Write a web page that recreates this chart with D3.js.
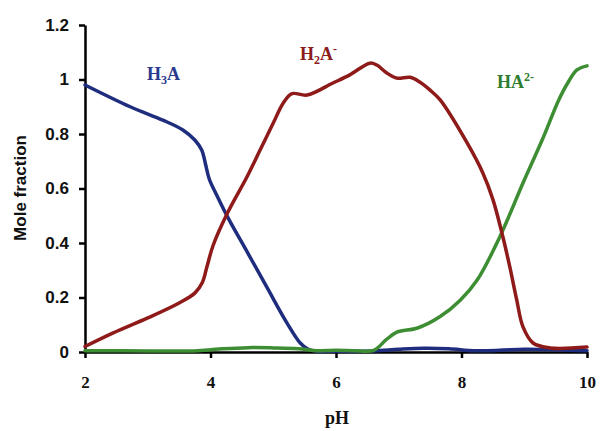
<!DOCTYPE html>
<html>
<head>
<meta charset="utf-8">
<script src="https://cdn.jsdelivr.net/npm/d3@7"></script>
<style>
  html, body { margin: 0; padding: 0; background: #fff; }
  svg { display: block; }
</style>
</head>
<body>
<svg id="chart" width="601" height="431"></svg>
<script>
// ---- data ----
const xTicks = [2, 4, 6, 8, 10];
const yTicks = [0, 0.2, 0.4, 0.6, 0.8, 1, 1.2];

const h3aPH  = [2.0, 2.72, 3.24, 3.56, 3.75, 3.86, 3.92, 3.98, 4.10, 4.28, 4.58, 4.90, 5.22, 5.43, 5.55, 5.7, 6.0, 6.6, 7.0, 7.4, 7.8, 8.2, 8.6, 9.0, 9.5, 10.0];
const h3aVal = [0.98, 0.90, 0.851, 0.815, 0.778, 0.741, 0.69, 0.635, 0.575, 0.492, 0.369, 0.237, 0.106, 0.033, 0.011, 0.003, 0.003, 0.004, 0.010, 0.014, 0.012, 0.005, 0.006, 0.010, 0.008, 0.005];

const h2aPH  = [2.0, 2.45, 3.0, 3.5, 3.75, 3.87, 3.94, 4.04, 4.27, 4.58, 4.79, 5.0, 5.16, 5.3, 5.54, 5.95, 6.22, 6.54, 6.65, 6.81, 6.97, 7.18, 7.34, 7.5, 7.66, 8.09, 8.34, 8.5, 8.66, 8.77, 8.88, 8.98, 9.14, 9.41, 10.0];
const h2aVal = [0.02, 0.07, 0.125, 0.18, 0.216, 0.255, 0.31, 0.39, 0.51, 0.642, 0.741, 0.84, 0.914, 0.948, 0.943, 0.987, 1.017, 1.06, 1.053, 1.024, 1.005, 1.008, 0.99, 0.961, 0.925, 0.767, 0.657, 0.56, 0.422, 0.312, 0.191, 0.092, 0.033, 0.015, 0.018];

const ha2PH  = [2.0, 3.0, 3.8, 4.2, 4.6, 5.0, 5.4, 5.7, 6.0, 6.3, 6.6, 6.8, 6.97, 7.3, 7.66, 7.98, 8.25, 8.61, 8.98, 9.28, 9.55, 9.7, 9.84, 10.0];
const ha2Val = [0.005, 0.004, 0.005, 0.012, 0.016, 0.015, 0.012, 0.005, 0.006, 0.005, 0.006, 0.045, 0.073, 0.088, 0.13, 0.19, 0.264, 0.422, 0.62, 0.775, 0.925, 0.99, 1.035, 1.05];

const seriesNames = ["H3A", "H2A-", "HA2-"];

// ---- drawing ----
const svg = d3.select("#chart");
const x = d3.scaleLinear().domain([2, 10]).range([85, 587]);
const y = d3.scaleLinear().domain([0, 1.2]).range([352, 25]);

const series = [
  { name: seriesNames[0], px: h3aPH, v: h3aVal, color: "#1f2d7e" },
  { name: seriesNames[2], px: ha2PH, v: ha2Val, color: "#3d8d33" },
  { name: seriesNames[1], px: h2aPH, v: h2aVal, color: "#8e1a1a" }
];

// axes
const yAxis = d3.axisLeft(y).tickValues(yTicks).tickFormat(d3.format("~g"))
  .tickSize(6).tickSizeOuter(0).tickPadding(10);
const xAxis = d3.axisBottom(x).tickValues(xTicks).tickFormat(d3.format("~g"))
  .tickSize(6).tickSizeOuter(0).tickPadding(18);

const gx = svg.append("g").attr("transform", "translate(0,352)").call(xAxis);
gx.select(".domain").attr("stroke", "#000").attr("stroke-width", 2.5);
gx.selectAll(".tick line").attr("stroke", "#000").attr("stroke-width", 2.5);
gx.selectAll(".tick text")
  .attr("font-family", "'Liberation Serif', 'Times New Roman', serif")
  .attr("font-weight", "bold").attr("font-size", 17).attr("fill", "#111");

const gy = svg.append("g").attr("transform", "translate(85,0)").call(yAxis);
gy.select(".domain").attr("stroke", "#000").attr("stroke-width", 2.5);
gy.selectAll(".tick line").attr("stroke", "#000").attr("stroke-width", 2.5);
gy.selectAll(".tick text")
  .attr("font-family", "'Liberation Sans', Arial, sans-serif")
  .attr("font-weight", "bold").attr("font-size", 17).attr("fill", "#111");

// curves
const line = d3.line()
  .x(d => x(d[0]))
  .y(d => y(d[1]))
  .curve(d3.curveCatmullRom.alpha(0.5));

series.forEach(s => {
  const pts = s.px.map((p, i) => [p, s.v[i]]);
  svg.append("path")
    .datum(pts)
    .attr("fill", "none")
    .attr("stroke", s.color)
    .attr("stroke-width", 3.5)
    .attr("stroke-linejoin", "round")
    .attr("stroke-linecap", "round")
    .attr("d", line);
});

// series labels
const serif = "'Liberation Serif', 'Times New Roman', serif";
// H3A
{
  const t = svg.append("text").attr("x", 147).attr("y", 80)
    .attr("font-family", serif).attr("font-weight", "bold")
    .attr("font-size", 18).attr("fill", "#2a3a8c");
  t.append("tspan").text("H");
  t.append("tspan").attr("font-size", 12).attr("dy", 4).text("3");
  t.append("tspan").attr("dy", -4).text("A");
}
// H2A-
{
  const t = svg.append("text").attr("x", 300).attr("y", 60)
    .attr("font-family", serif).attr("font-weight", "bold")
    .attr("font-size", 18).attr("fill", "#8b1c1c");
  t.append("tspan").text("H");
  t.append("tspan").attr("font-size", 12).attr("dy", 4).text("2");
  t.append("tspan").attr("dy", -4).text("A");
  t.append("tspan").attr("font-size", 12).attr("dy", -7).text("-");
}
// HA2-
{
  const t = svg.append("text").attr("x", 497).attr("y", 88)
    .attr("font-family", serif).attr("font-weight", "bold")
    .attr("font-size", 18).attr("fill", "#2f7d2f");
  t.append("tspan").text("HA");
  t.append("tspan").attr("font-size", 12).attr("dy", -7).text("2-");
}

// axis titles
svg.append("text")
  .attr("transform", "translate(26,188) rotate(-90)")
  .attr("text-anchor", "middle")
  .attr("font-family", "'Liberation Sans', Arial, sans-serif")
  .attr("font-weight", "bold").attr("font-size", 17).attr("fill", "#111")
  .text("Mole fraction");

svg.append("text")
  .attr("x", 337).attr("y", 424)
  .attr("text-anchor", "middle")
  .attr("font-family", serif)
  .attr("font-weight", "bold").attr("font-size", 18).attr("fill", "#111")
  .text("pH");
</script>
</body>
</html>
